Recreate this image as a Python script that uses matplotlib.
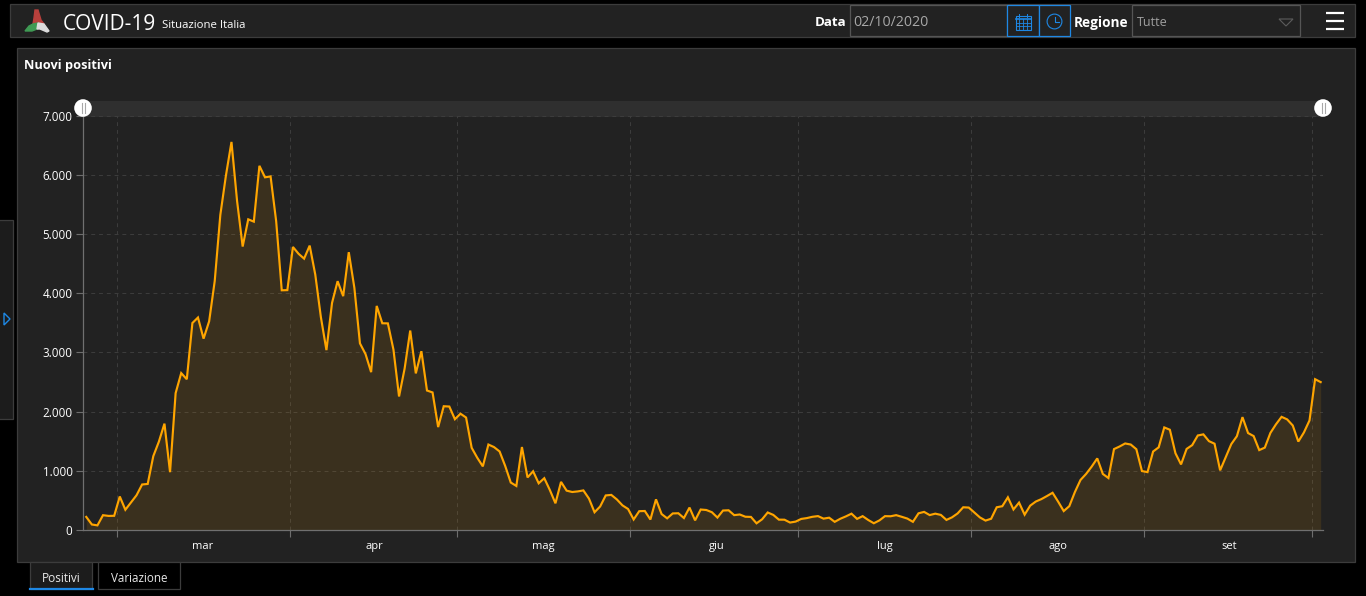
import numpy as np
import pandas as pd
import matplotlib
matplotlib.use("Agg")
import matplotlib.pyplot as plt
from matplotlib.patches import Rectangle, Circle, Polygon
from matplotlib.ticker import FuncFormatter

plt.rcParams['font.family'] = ['Open Sans', 'DejaVu Sans']

nuovi_positivi = [
    221, 93, 78, 250, 238, 240, 566, 342, 466, 587, 769, 778, 1247, 1492, 1797, 977,
    2313, 2651, 2547, 3497, 3590, 3233, 3526, 4207, 5322, 5986, 6557, 5560, 4789, 5249,
    5210, 6153, 5959, 5974, 5217, 4050, 4053, 4782, 4668, 4585, 4805, 4316, 3599, 3039,
    3836, 4204, 3951, 4694, 4092, 3153, 2972, 2667, 3786, 3493, 3491, 3047, 2256, 2729,
    3370, 2646, 3021, 2357, 2324, 1739, 2091, 2086, 1872, 1965, 1900, 1389, 1221, 1075,
    1444, 1401, 1327, 1083, 802, 744, 1402, 888, 992, 789, 875, 675, 451, 813,
    665, 642, 652, 669, 531, 300, 397, 584, 593, 516, 416, 355, 178, 318,
    321, 177, 518, 270, 197, 280, 283, 202, 379, 163, 346, 338, 301, 210,
    329, 333, 251, 262, 224, 221, 113, 181, 296, 255, 175, 174, 126, 142,
    187, 201, 223, 235, 192, 208, 138, 190, 230, 276, 188, 234, 169, 114,
    162, 234, 232, 251, 223, 193, 138, 282, 306, 252, 276, 255, 170, 214,
    280, 384, 379, 295, 212, 159, 190, 384, 402, 552, 347, 463, 259, 412,
    481, 522, 574, 629, 479, 320, 403, 642, 845, 947, 1071, 1210, 947, 878,
    1367, 1411, 1462, 1444, 1365, 996, 978, 1326, 1397, 1733, 1694, 1297, 1108, 1370,
    1434, 1597, 1616, 1501, 1458, 1008, 1229, 1452, 1585, 1907, 1638, 1587, 1350, 1392,
    1640, 1786, 1912, 1869, 1766, 1494, 1648, 1851, 2548, 2499,
]
mesi = ["mar", "apr", "mag", "giu", "lug", "ago", "set"]
inizio_mesi = ["2020-03-01", "2020-04-01", "2020-05-01", "2020-06-01",
               "2020-07-01", "2020-08-01", "2020-09-01", "2020-10-01"]
centro_mesi = ["2020-03-16 12:00", "2020-04-16 06:00", "2020-05-16 12:00", "2020-06-16 12:00",
               "2020-07-16 12:00", "2020-08-16 12:00", "2020-09-16 06:00"]
tick_y = [0, 1000, 2000, 3000, 4000, 5000, 6000, 7000]

W, H = 1366, 596
BG = "#000000"
PANEL = "#222222"
BORDER = "#3c3c3c"
BLUE = "#1e88e5"
ORANGE = "#ffa500"

fig = plt.figure(figsize=(W / 100, H / 100), dpi=100, facecolor=BG)

# pixel-space layer for the app chrome around the chart
ui = fig.add_axes([0, 0, 1, 1], zorder=0)
ui.set_xlim(0, W)
ui.set_ylim(H, 0)
ui.axis("off")


def box(x0, y0, x1, y1, face=PANEL, edge=BORDER, lw=0.9):
    ui.add_patch(Rectangle((x0 - 0.5, y0 - 0.5), x1 - x0, y1 - y0, facecolor=face, edgecolor=edge, linewidth=lw))


def label(x, y, s, size, color="white", weight="normal", ha="left"):
    ui.text(x, y, s, fontsize=size, color=color, fontweight=weight, ha=ha, va="center_baseline")


box(10, 4, 1355, 37)
box(17, 48, 1355, 562)
box(-2, 220, 13, 419, face="#1c1c1c")
ui.add_patch(Polygon([(4, 313), (10, 319), (4, 325)], closed=True, facecolor="none", edgecolor=BLUE, linewidth=1))

# logo
ui.add_patch(Polygon([(35, 10), (38, 10), (41, 20), (44, 24), (38, 23), (33, 24), (34, 18)], closed=True, color="#b8403c"))
ui.add_patch(Polygon([(25, 31), (29, 26), (33, 24), (38, 23), (37, 29), (32, 31)], closed=True, color="#3f9a54"))
ui.add_patch(Polygon([(38, 23), (44, 24), (49, 31), (47, 32), (40, 29), (37, 29)], closed=True, color="#dcdcdc"))

label(63, 21.5, "COVID-19", 15)
label(162, 24, "Situazione Italia", 8.2)

label(815, 21.5, "Data", 9.6, weight="bold")
box(850, 5, 1007, 36, edge="#555555")
label(853, 20.5, "02/10/2020", 10.2, color="#a8a8a8")
box(1007, 5, 1039, 36, edge=BLUE)
box(1039, 5, 1070, 36, edge=BLUE)

# calendar icon
ui.add_patch(Rectangle((1015.5, 16), 15, 14, facecolor="none", edgecolor=BLUE, linewidth=0.8))
ui.plot([1015.5, 1030.5], [19, 19], color=BLUE, lw=1.2)
ui.plot([1019, 1019], [14, 17], color=BLUE, lw=0.7)
ui.plot([1027, 1027], [14, 17], color=BLUE, lw=0.7)
for gx in [1019.2, 1023, 1026.8]:
    ui.plot([gx, gx], [19, 30], color=BLUE, lw=0.6)
for gy in [22.6, 26.2]:
    ui.plot([1015.5, 1030.5], [gy, gy], color=BLUE, lw=0.6)
# clock icon
ui.add_patch(Circle((1054.5, 21.5), 7.4, facecolor="none", edgecolor=BLUE, linewidth=0.8))
ui.plot([1054.5, 1054.5, 1059], [17, 22, 22], color=BLUE, lw=0.8)

label(1074, 21.5, "Regione", 9.8, weight="bold")
box(1132, 5, 1300, 36, edge="#555555")
label(1137, 21.5, "Tutte", 9, color="#a0a0a0")
ui.add_patch(Polygon([(1279, 19), (1293, 19), (1286, 26)], closed=True, facecolor="none", edgecolor="#5c5c5c", linewidth=0.8))
for my in [13, 21, 28.5]:
    ui.plot([1326, 1344], [my, my], color="white", lw=1.6, solid_capstyle="butt")

label(24, 64, "Nuovi positivi", 9.2, weight="bold")
ui.add_patch(Rectangle((83, 101), 1240, 16, facecolor="#2f2f2f", edgecolor="none"))

# tabs
box(30, 562, 92, 589, face="#1c1c1c")
ui.plot([30, 92.5], [588.5, 588.5], color=BLUE, lw=1.6)
label(42, 576.5, "Positivi", 8.6, color="#e8e8e8")
box(98, 562, 180, 589, face=BG)
label(111, 576.5, "Variazione", 8.4, color="#e8e8e8")

# chart, placed so the data limits fall on the same pixels as the reference
ax = fig.add_axes([83 / W, 1 - 530 / H, (1323 - 83) / W, (530 - 115.7) / H], zorder=1)
ax.patch.set_alpha(0)

date = pd.date_range("2020-02-24 14:00", periods=len(nuovi_positivi), freq="D")
ax.fill_between(date, nuovi_positivi, 0, color=ORANGE, alpha=0.11, linewidth=0)
ax.plot(date, nuovi_positivi, color=ORANGE, lw=1.55, solid_joinstyle="miter")

ax.set_xlim(pd.Timestamp("2020-02-24"), pd.Timestamp("2020-10-03"))
ax.set_ylim(0, 7000)
ax.set_yticks(tick_y)
ax.yaxis.set_major_formatter(FuncFormatter(lambda v, _: f"{int(v):,}".replace(",", ".")))
ax.set_xticks(pd.to_datetime(inizio_mesi))
ax.set_xticks(pd.to_datetime(centro_mesi), labels=mesi, minor=True)
ax.xaxis.set_major_formatter(plt.NullFormatter())

ax.grid(True, which="major", color="#3d3d3d", lw=0.7, ls=(0, (4, 4)))
ax.set_axisbelow(True)
ax.tick_params(axis="x", which="major", length=5, width=0.8, color="#6e6e6e")
ax.tick_params(axis="x", which="minor", length=0, pad=8, labelsize=8, labelcolor="white")
ax.tick_params(axis="y", length=5, width=0.8, color="#6e6e6e", labelsize=8.4, labelcolor="white", pad=2.5)
for side in ["top", "right"]:
    ax.spines[side].set_visible(False)
for side in ["left", "bottom"]:
    ax.spines[side].set_color("#707070")
    ax.spines[side].set_linewidth(0.9)

# range slider handles go on top of everything
top = fig.add_axes([0, 0, 1, 1], zorder=2)
top.set_xlim(0, W)
top.set_ylim(H, 0)
top.axis("off")
for hx in [83, 1323]:
    top.add_patch(Circle((hx, 108), 8.8, facecolor="white", edgecolor="none"))
    top.plot([hx - 1.5, hx - 1.5], [103, 113], color="#a8a8a8", lw=0.8)
    top.plot([hx + 1.5, hx + 1.5], [103, 113], color="#a8a8a8", lw=0.8)

fig.savefig("out.png", dpi=100, facecolor=BG)
